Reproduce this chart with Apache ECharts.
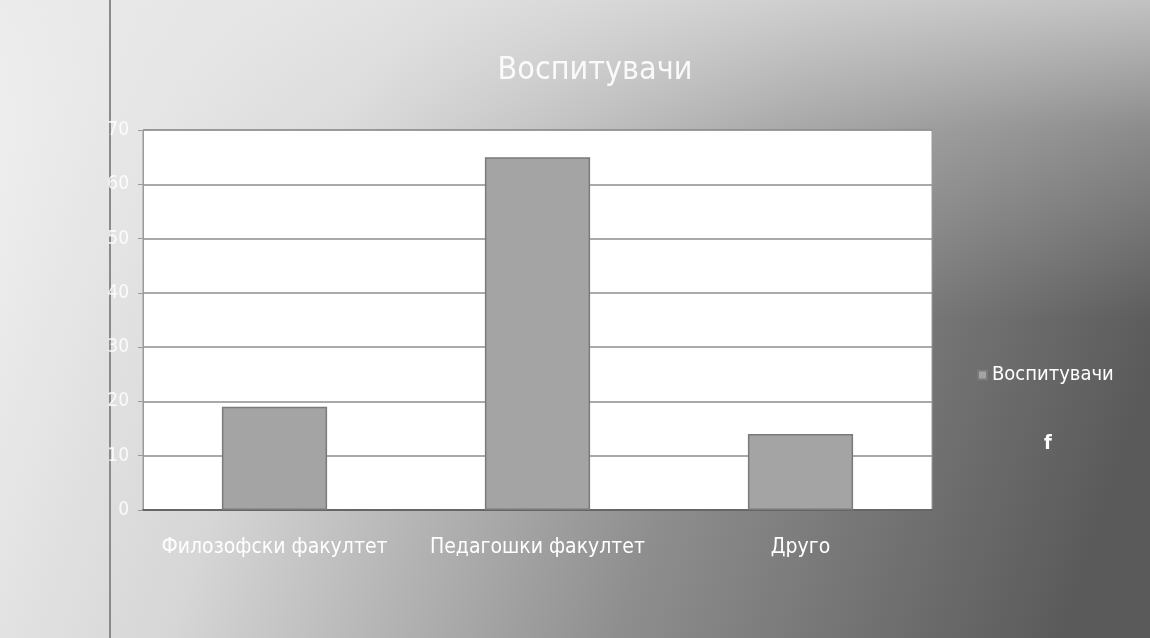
<!DOCTYPE html>
<html>
<head>
<meta charset="utf-8">
<script src="https://cdn.jsdelivr.net/npm/echarts@6/dist/echarts.min.js"></script>
<style>html,body{margin:0;padding:0;}#c{width:1150px;height:638px;}</style>
</head>
<body>
<div id="c"></div>
<script>
const categories = ['Филозофски факултет', 'Педагошки факултет', 'Друго'];
const seriesName = 'Воспитувачи';
const values = [19, 65, 14];
const yTicks = [0, 10, 20, 30, 40, 50, 60, 70];

const chart = echarts.init(document.getElementById('c'));
const font = '"Liberation Sans Narrow", "DejaVu Sans Condensed", "Open Sans", sans-serif';
chart.setOption({
  backgroundColor: {
    type: 'linear', x: 0, y: 0, x2: 1, y2: 0.6,
    colorStops: [
      {offset: 0, color: '#f2f2f2'},
      {offset: 0.3, color: '#d6d6d6'},
      {offset: 0.65, color: '#8e8e8e'},
      {offset: 1, color: '#5a5a5a'}
    ]
  },
  title: {
    text: seriesName,
    left: 590, top: 50, textAlign: 'center',
    textStyle: {color: 'rgba(255,255,255,0.9)', fontSize: 32, fontWeight: 'normal', fontFamily: font}
  },
  legend: {
    data: [seriesName],
    left: 972, top: 360,
    itemWidth: 9, itemHeight: 9, itemGap: 6,
    icon: 'rect',
    textStyle: {color: '#ffffff', fontSize: 20, fontFamily: font}
  },
  grid: {
    left: 143, right: 218, top: 130, bottom: 128,
    show: true, backgroundColor: '#ffffff', borderColor: '#9a9a9a', borderWidth: 1
  },
  xAxis: {
    type: 'category', data: categories,
    axisLine: {lineStyle: {color: '#666', width: 2}},
    axisTick: {show: false},
    axisLabel: {color: '#ffffff', fontSize: 21, fontFamily: font, margin: 27, interval: 0}
  },
  yAxis: {
    type: 'value', min: yTicks[0], max: yTicks[yTicks.length - 1], interval: 10,
    axisLine: {show: true, lineStyle: {color: '#9a9a9a'}},
    axisTick: {show: true, lineStyle: {color: '#9a9a9a'}},
    axisLabel: {color: 'rgba(255,255,255,0.85)', fontSize: 19, fontFamily: font, margin: 14},
    splitLine: {lineStyle: {color: '#8c8c8c', width: 1.5}}
  },
  series: [{
    name: seriesName, type: 'bar', data: values, barWidth: '40%',
    itemStyle: {color: '#a4a4a4', borderColor: '#7a7a7a', borderWidth: 1.5}
  }],
  graphic: [
    {type: 'rect', left: 0, top: 0, z: -100, silent: true, shape: {width: 1150, height: 320},
     style: {fill: {type: 'linear', x: 0, y: 0, x2: 0, y2: 1,
       colorStops: [{offset: 0, color: 'rgba(232,232,232,0.7)'}, {offset: 0.4, color: 'rgba(232,232,232,0.3)'}, {offset: 1, color: 'rgba(232,232,232,0)'}]}}},
    {type: 'line', shape: {x1: 110, y1: 0, x2: 110, y2: 638}, style: {stroke: '#8a8a8a', lineWidth: 2}},
    {type: 'text', left: 1044, top: 434, style: {text: 'f', fill: '#ffffff', font: 'bold 20px ' + font}}
  ]
});
</script>
</body>
</html>
